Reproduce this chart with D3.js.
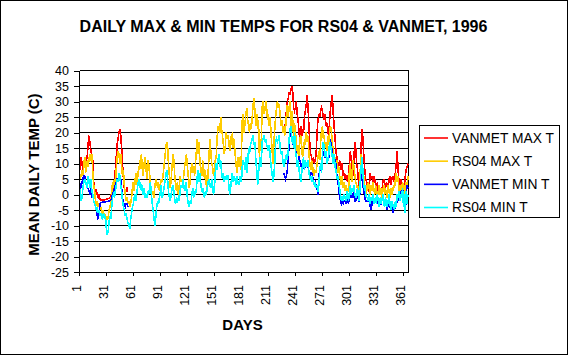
<!DOCTYPE html>
<html><head><meta charset="utf-8">
<script src="https://cdn.jsdelivr.net/npm/d3@7"></script>
<style>
body{margin:0;background:#fff}
svg{display:block}
text{font-family:Arial,"Liberation Sans",Helvetica,sans-serif;fill:#000}
</style>
</head><body>
<svg id="chart" width="570" height="356"></svg>
<script>
// ---------------- DATA ----------------
const title = "DAILY MAX & MIN TEMPS FOR RS04 & VANMET, 1996";
const yTitle = "MEAN DAILY TEMP (C)";
const xTitle = "DAYS";
const seriesNames = ["VANMET MAX T", "RS04 MAX T", "VANMET MIN T", "RS04 MIN T"];
const seriesColors = ["#ff0000", "#ffcc00", "#0000ff", "#00ffff"];
const yTickValues = [-25, -20, -15, -10, -5, 0, 5, 10, 15, 20, 25, 30, 35, 40];
const xTickValues = [1, 31, 61, 91, 121, 151, 181, 211, 241, 271, 301, 331, 361];
const firstDay = 1, lastDay = 366;

// RS04 daily max (days 1..366)
const rs04Max = [
 7,5,6,8,6,10,12,7,9,11,
 9,12,13,11,13,7,3,1,-2,-3,
 -2,-4,-3,-5,-4,-6,-5,-7,-6,-8,
 -9,-7,-8,-5,-4,-3,1,4,2,5,
 3,8,12,14,13,10,13,9,6,8,
 3,0,-2,-1,-3,-2,-4,-3,-1,2,
 4,1,5,7,3,6,9,8,12,13,
 8,6,10,12,9,5,11,10,7,3,
 2,0,1,-1,3,5,4,2,4,1,
 3,5,4,6,9,12,15,17,16,10,
 6,2,5,9,13,11,6,3,1,4,
 0,3,6,4,5,3,6,9,11,13,
 9,6,2,4,8,10,7,9,6,10,
 14,18,13,17,10,8,6,11,9,5,
 8,3,2,7,12,18,14,10,9,6,
 8,11,12,18,22,21,20,25,21,19,
 16,13,15,20,18,19,17,14,19,16,
 20,15,18,13,10,7,12,9,12,8,
 13,24,26,20,23,26,28,24,22,20,
 23,21,25,29,31,27,22,26,21,24,
 12,18,15,28,30,26,27,30,28,24,
 26,22,25,19,15,10,16,21,25,28,
 30,28,29,26,22,24,20,22,19,21,
 26,29,25,28,30,22,27,24,18,23,
 20,17,13,16,12,18,19,14,12,17,
 15,18,20,17,19,13,10,8,11,7,
 9,6,8,7,10,12,14,11,17,21,
 22,18,19,15,17,14,19,16,21,22,
 20,17,14,10,12,8,11,7,9,6,
 5,3,6,2,4,1,3,0,2,1,
 8,10,5,4,11,9,6,4,3,2,
 1,3,8,13,9,4,6,2,0,3,
 1,4,2,0,3,1,4,2,0,3,
 2,-1,1,3,0,2,-1,1,3,0,
 2,0,-1,3,1,-1,2,0,1,3,
 2,5,7,4,6,1,3,0,2,4,
 1,3,0,4,2,6
];

// RS04 daily min (days 1..366)
const rs04Min = [
 3,0,-2,-1,2,4,5,3,4,2,
 6,4,2,5,1,0,-2,-3,-4,-5,
 -4,-6,-5,-7,-6,-8,-7,-6,-8,-7,
 -11,-13,-12,-9,-7,-8,-4,-1,0,-1,
 1,3,5,4,7,6,3,1,-2,-4,
 -5,-7,-6,-8,-9,-10,-11,-8,-6,-4,
 -3,-1,0,-2,1,3,5,2,4,1,
 3,0,2,-1,0,-1,1,0,2,4,
 0,-3,-5,-8,-10,-7,-4,-2,-3,-1,
 1,3,-1,0,2,4,6,8,5,1,
 -1,-2,0,2,3,1,-2,-3,-1,-2,
 -1,-2,1,3,2,5,3,1,4,3,
 -1,-3,-4,-2,-3,0,2,-1,1,0,
 2,6,8,4,7,3,1,2,0,-1,
 1,0,2,4,5,3,2,5,3,0,
 2,7,10,8,11,13,9,11,7,5,
 7,4,6,5,6,6,3,0,2,5,
 7,4,6,5,3,6,4,3,5,6,
 4,9,11,10,8,12,7,10,15,13,
 16,17,18,19,16,17,11,8,3,7,
 10,12,9,17,18,19,17,18,16,15,
 14,16,12,9,7,4,6,10,17,18,
 17,18,19,15,13,14,11,9,10,12,
 13,11,14,18,21,22,17,19,15,20,
 14,12,9,11,8,6,4,7,10,12,
 8,11,10,9,11,7,5,6,4,5,
 4,3,4,2,3,1,3,8,10,7,
 13,17,15,12,14,10,11,13,17,16,
 14,12,10,13,9,8,5,6,4,2,
 0,-2,-1,-2,0,-1,-2,1,0,-2,
 1,3,0,2,1,3,0,-1,1,2,
 -1,-2,4,9,12,7,2,3,0,-1,
 -1,-2,0,-3,-1,-2,0,-3,-2,-1,
 -3,0,-2,-4,-1,-3,-2,0,-3,-4,
 -1,-3,-4,-2,0,-3,-5,-2,-4,-3,
 -5,-2,-4,0,-1,1,-2,0,-1,2,
 -4,0,-6,1,-3,0
];

// VANMET only reported in two periods
const vanmetStart1 = 1;    // days 1..55
const vanmetStart2 = 228;  // days 228..366
const vanmetMax1 = [
 14,8,12,10,8,11,10,8,11,13,
 17,19,16,14,12,11,4,2,0,1,
 0,-1,0,-1.5,-1.8,-1.8,-1.8,-1.7,-1.7,-1.6,
 -1.5,-1.5,-1.3,-1.2,-1,-0.5,0.5,1,1.5,4,
 8,12,16,18,20,21,19,15,10,5,
 2,1,1,2,1
];
const vanmetMin1 = [
 4,3,2,4,5,6,6,4,3,2,
 2,1,0,2,-1,0,-2,-3,-4,-5,
 -7,-8,-6,-3,-2.6,-2.6,-2.5,-2.5,-2.4,-2.4,
 -2.3,-2.2,-2.2,-2.1,-2,-1.8,-1,0,1,2,
 3,4,5,5,6,5,5,2,-1,-3,
 -3,-4,-3,-3,-4
];
const vanmetMax2 = [
 19,19,24,
 27,30,31,33,32,34,35,33,28,27,
 28,30,26,24,20,17,22,19,21,20,
 25,27,29,32,28,22,16,13,12,10,
 12,10,11,13,20,24,26,25,27,28,
 27,25,24,26,22,23,20,19,24,28,
 30,32,26,22,18,14,12,10,9,11,
 9,8,10,6,7,5,6,5,4,7,
 10,14,11,7,6,12,17,15,10,8,
 4,2,8,16,21,18,12,8,5,4,
 3,1,2,7,5,6,4,6,5,3,
 2,4,1,3,0,2,1,4,5,3,
 2,4,3,2,5,6,3,5,6,4,
 5,7,10,14,8,4,2,5,3,1,
 3,2,6,8,9,10
];
const vanmetMin2 = [
 7,6,5,
 6,8,12,16,20,21,17,18,15,19,
 15,12,10,11,12,11,10,8,9,9,
 8,10,10,9,10,7,6,7,7,6,
 4,3,4,3,2,0,6,8,9,7,
 12,14,13,12,12,11,11,12,16,17,
 16,13,11,12,11,10,6,5,2,-1,
 -2,-3,-2,-3,-2,-2,-3,-1,-2,-3,
 0,1,-1,0,-1,1,-2,-2,0,1,
 -2,-2,3,7,5,3,1,-1,-2,-2,
 -2,-2,-1,-4,-5,-3,-1,-3,-2,-2,
 -3,-1,-3,-4,-2,-3,-2,-1,-3,-4,
 -2,-3,-5,-3,-1,-4,-5,-3,-6,-4,
 -5,-3,-4,-1,-2,0,-1,1,0,2,
 -3,-1,-6,0,3,2
];

// ---------------- BUILD ----------------
const days = d3.range(firstDay, lastDay + 1);
function toPoints(arr, start) { return arr.map((v, i) => ({day: start + i, v})); }
function fullSeries(parts) {
  const m = new Map();
  parts.forEach(([arr, s]) => arr.forEach((v, i) => m.set(s + i, v)));
  return days.map(d => ({day: d, v: m.has(d) ? m.get(d) : null}));
}
const series = [
  fullSeries([[vanmetMax1, vanmetStart1], [vanmetMax2, vanmetStart2]]),
  toPoints(rs04Max, firstDay),
  fullSeries([[vanmetMin1, vanmetStart1], [vanmetMin2, vanmetStart2]]),
  toPoints(rs04Min, firstDay)
];

const svg = d3.select("#chart");
const plot = {left: 79.3, right: 408, top: 70.5, bottom: 272};

const x = d3.scaleLinear().domain([firstDay, lastDay]).range([plot.left, plot.right]);
const y = d3.scaleLinear().domain([d3.min(yTickValues), d3.max(yTickValues)]).range([plot.bottom, plot.top]);

// outer border
svg.append("rect").attr("x", 0.5).attr("y", 0.5).attr("width", 567).attr("height", 354)
  .attr("fill", "#fff").attr("stroke", "#000").attr("stroke-width", 1);

// gridlines
const px = v => Math.floor(v) + 0.5;
svg.append("g").selectAll("line").data(yTickValues).join("line")
  .attr("x1", px(plot.left)).attr("x2", px(plot.right))
  .attr("y1", d => px(y(d))).attr("y2", d => px(y(d)))
  .attr("stroke", "#000").attr("stroke-width", 1).attr("shape-rendering", "crispEdges");

// plot right edge
svg.append("line").attr("x1", px(plot.right)).attr("x2", px(plot.right))
  .attr("y1", px(y(40))).attr("y2", px(y(-25)))
  .attr("stroke", "#000").attr("shape-rendering", "crispEdges");

// lines
const line = d3.line().defined(d => d.v != null).x(d => x(d.day)).y(d => y(d.v));
series.forEach((s, i) => {
  svg.append("path").datum(s).attr("d", line)
    .attr("fill", "none").attr("stroke", seriesColors[i]).attr("stroke-width", 1.6)
    .attr("stroke-linejoin", "miter").attr("shape-rendering", "crispEdges");
});

// y axis
const yAxis = svg.append("g").attr("transform", `translate(${Math.floor(plot.left)},0)`)
  .call(d3.axisLeft(y).tickValues(yTickValues).tickSize(5).tickPadding(5).tickFormat(d => String(d)));
yAxis.selectAll("path,line").attr("stroke", "#000").attr("shape-rendering", "crispEdges");
yAxis.selectAll("text").attr("font-size", "12.5px").attr("font-family", "Arial, 'Liberation Sans', sans-serif").attr("fill", "#000");

// x axis
const xAxis = svg.append("g").attr("transform", `translate(0,${Math.floor(plot.bottom)})`)
  .call(d3.axisBottom(x).tickValues(xTickValues).tickSize(4).tickSizeOuter(0).tickFormat(d => String(d)));
xAxis.selectAll("path,line").attr("stroke", "#000").attr("shape-rendering", "crispEdges");
xAxis.selectAll("text")
  .attr("y", null).attr("dy", null)
  .attr("transform", "translate(1,13) rotate(-90)")
  .attr("text-anchor", "end")
  .attr("font-size", "12.5px").attr("font-family", "Arial, 'Liberation Sans', sans-serif").attr("fill", "#000");

// titles
svg.append("text").attr("x", 283.5).attr("y", 32.3).attr("text-anchor", "middle")
  .attr("font-size", "16px").attr("font-weight", "bold").text(title);
svg.append("text").attr("transform", "translate(38.5,174.5) rotate(-90)").attr("text-anchor", "middle")
  .attr("font-size", "15px").attr("font-weight", "bold").text(yTitle);
svg.append("text").attr("x", 242.5).attr("y", 330).attr("text-anchor", "middle")
  .attr("font-size", "15px").attr("font-weight", "bold").text(xTitle);

// legend
const lg = svg.append("g");
lg.append("rect").attr("x", 419.5).attr("y", 125.5).attr("width", 140).attr("height", 92)
  .attr("fill", "#fff").attr("stroke", "#000").attr("shape-rendering", "crispEdges");
const rowY = d3.scaleLinear().domain([0, 3]).range([138, 207.5]);
seriesNames.forEach((name, i) => {
  lg.append("line").attr("x1", 424).attr("x2", 448).attr("y1", rowY(i)).attr("y2", rowY(i))
    .attr("stroke", seriesColors[i]).attr("stroke-width", 1.6);
  lg.append("text").attr("x", 452).attr("y", rowY(i)).attr("dy", "0.36em")
    .attr("font-size", "13.8px").text(name);
});
</script>
</body></html>
